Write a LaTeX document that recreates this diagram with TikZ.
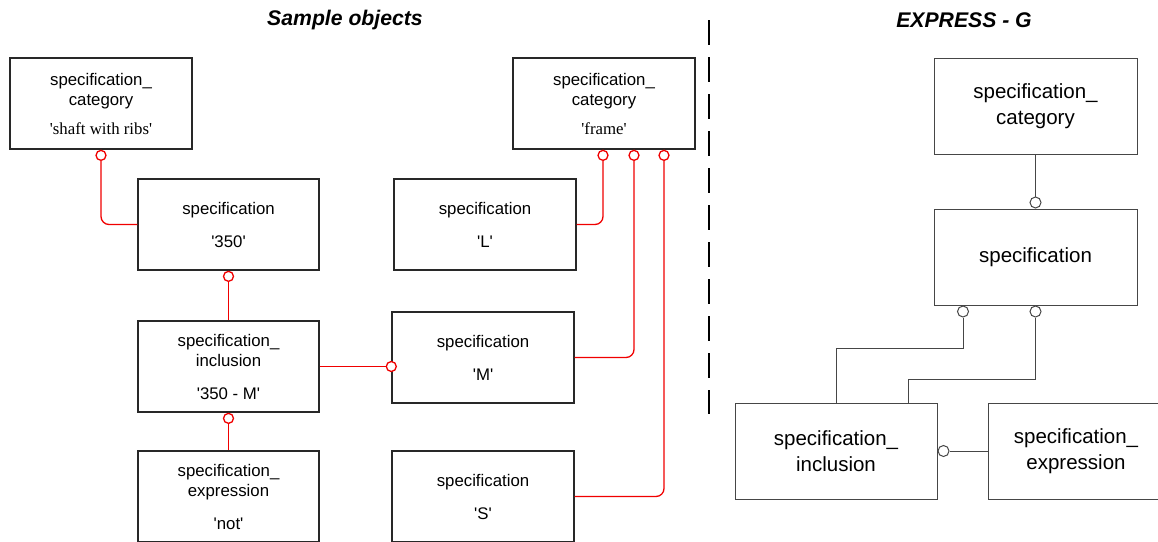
\documentclass[tikz,border=0pt]{standalone}
\usepackage{fontspec}
\setmainfont{Liberation Sans}
\newfontfamily\tnr{Liberation Serif}
\usepackage{tikz}
\usetikzlibrary{positioning}
\definecolor{relred}{RGB}{240,0,0}
\definecolor{boxgray}{RGB}{40,40,40}
\definecolor{expgray}{RGB}{70,70,70}
\newcommand{\val}[1]{\textquotesingle#1\textquotesingle}

\begin{document}
\begin{tikzpicture}[x=1pt, y=-1pt,
  obj/.style={draw=boxgray, line width=1.4pt, minimum width=182pt, minimum height=91pt,
    inner sep=0pt, align=center, font=\fontsize{16.8}{20}\selectfont},
  ent/.style={draw=expgray, line width=1pt, minimum width=203pt, minimum height=96pt,
    inner sep=0pt, align=center, font=\fontsize{20.5}{26}\selectfont},
  ring/.style={circle, draw=relred, fill=white, line width=1.3pt, minimum size=10pt, inner sep=0pt},
  ering/.style={circle, draw=expgray, fill=white, line width=1pt, minimum size=11pt, inner sep=0pt},
  rel/.style={draw=relred, line width=1.3pt, rounded corners=8pt},
  erel/.style={draw=expgray, line width=1pt},
  ttl/.style={font=\fontsize{21.2}{25}\selectfont\bfseries\itshape}]
\useasboundingbox (0,0) rectangle (1158,541);
\node[ttl] (ttlA) at (345,20) {Sample objects};
\node[ttl] (ttlB) at (964,20) {EXPRESS - G};
\draw[line width=2.5pt, dash pattern=on 25pt off 12pt] (709,20) -- (709,414);

\node[obj] (cat1) at (101,103.5) {specification\_\\category\\[9pt]{\tnr \val{shaft with ribs}}};
\node[obj, minimum width=181pt] (s350) at (228.5,224.5) {specification\\[13pt]\val{350}};
\node[obj, minimum width=181pt] (incl) at (228.5,366.5) {specification\_\\inclusion\\[13pt]\val{350 - M}};
\node[obj, minimum width=181pt] (expr) at (228.5,496.5) {specification\_\\expression\\[13pt]\val{not}};
\node[obj] (cat2) at (604,103.5) {specification\_\\category\\[9pt]{\tnr \val{frame}}};
\node[obj] (sL) at (485,224.5) {specification\\[13pt]\val{L}};
\node[obj] (sM) at (483,357.5) {specification\\[13pt]\val{M}};
\node[obj] (sS) at (483,496.5) {specification\\[13pt]\val{S}};

\node[ring, anchor=north] (k1) at (cat1.south) {};
\node[ring, anchor=north] (k350) at (s350.south) {};
\node[ring, anchor=north] (kincl) at (incl.south) {};
\node[ring, anchor=north] (kL) at ([xshift=-1pt]cat2.south) {};
\node[ring, anchor=north] (kM) at ([xshift=30pt]cat2.south) {};
\node[ring, anchor=north] (kS) at ([xshift=60pt]cat2.south) {};
\node[ring] (kin) at (sM.west |- incl.east) {};

\draw[rel] (k1) |- (s350);
\draw[rel] (k350) -- (incl);
\draw[rel] (kincl) -- (expr);
\draw[rel] (incl.east) -- (kin);
\draw[rel] (kL) |- (sL);
\draw[rel] (kM) |- (sM);
\draw[rel] (kS) |- (sS);

\node[ent] (rcat) at (1035.5,106) {specification\_\\category};
\node[ent] (rspec) at (1035.5,257) {specification};
\node[ent, minimum width=202pt] (rincl) at (836,451) {specification\_\\inclusion};
\node[ent, minimum width=176pt] (rexpr) at (1076,451) {specification\_\\expression};

\node[ering, anchor=south] (q0) at (rspec.north) {};
\node[ering, anchor=north] (q1) at ([xshift=-72.5pt]rspec.south) {};
\node[ering, anchor=north] (q2) at (rspec.south) {};
\node[ering, anchor=west] (q3) at (rincl.east) {};

\draw[erel] (rcat) -- (q0);
\draw[erel] (q1) -- ++(0,37) -| (rincl.north);
\draw[erel] (q2) -- ++(0,68) -| ([xshift=72pt]rincl.north);
\draw[erel] (q3) -- (rexpr);
\end{tikzpicture}
\end{document}
